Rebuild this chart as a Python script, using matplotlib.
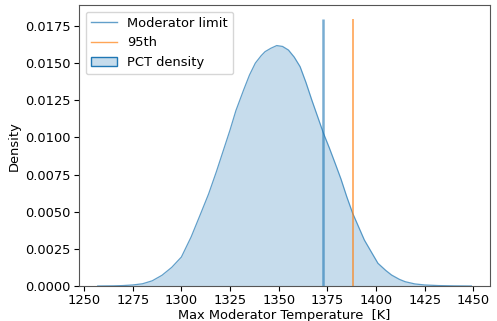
import matplotlib
matplotlib.use("Agg")
import matplotlib.pyplot as plt
from matplotlib.patches import Patch
from matplotlib.lines import Line2D

# KDE curve (temperature K, density)
temp = [1257, 1265, 1270, 1275, 1280, 1285, 1290, 1295, 1300, 1305, 1310, 1314,
        1318, 1322, 1325, 1328, 1332, 1335, 1338, 1341, 1343, 1346, 1349, 1352,
        1355, 1358, 1361, 1364, 1367, 1370, 1373, 1376, 1379, 1382, 1385, 1388,
        1391, 1394, 1398, 1401, 1405, 1408, 1412, 1415, 1420, 1425, 1432, 1440, 1449]
dens = [0.0000, 0.00001, 0.00003, 0.00007, 0.00015, 0.00035, 0.00072, 0.00125, 0.00195,
        0.0033, 0.0049, 0.0062, 0.0077, 0.0093, 0.0105, 0.0118, 0.0132, 0.0142, 0.0150,
        0.0155, 0.01577, 0.0160, 0.01618, 0.01612, 0.01588, 0.0154, 0.01476, 0.0137,
        0.01252, 0.0114, 0.01028, 0.0093, 0.00826, 0.0072, 0.0060, 0.0049, 0.0040,
        0.0031, 0.0022, 0.00153, 0.00105, 0.00074, 0.00045, 0.00029, 0.00014, 0.00007,
        0.00003, 0.00001, 0.0]

moderator_limit = 1373
p95 = 1388
line_top = 0.018

FS = 9.4
fig, ax = plt.subplots(figsize=(4.97, 3.21), dpi=100)
fig.subplots_adjust(left=0.159, right=0.986, top=0.984, bottom=0.109)

ax.fill_between(temp, dens, color='tab:blue', alpha=0.25, linewidth=0)
ax.plot(temp, dens, color='tab:blue', alpha=0.7, linewidth=0.9)
ax.vlines(moderator_limit, 0, line_top, color='tab:blue', alpha=0.6, linewidth=1.8)
ax.vlines(p95, 0, line_top, color='tab:orange', alpha=0.65, linewidth=1.3)

handles = [Line2D([], [], color='tab:blue', alpha=0.7, lw=1.0),
           Line2D([], [], color='tab:orange', alpha=0.7, lw=1.0),
           Patch(facecolor=(31/255, 119/255, 180/255, 0.25), edgecolor='tab:blue')]
ax.legend(handles, ['Moderator limit', '95th', 'PCT density'], loc='upper left',
          fontsize=FS)

ax.set_xlim(1247.4, 1458.6)
ax.set_ylim(0, line_top * 1.05)
ax.set_xticks([1250, 1275, 1300, 1325, 1350, 1375, 1400, 1425, 1450])
ax.set_yticks([0.0, 0.0025, 0.005, 0.0075, 0.01, 0.0125, 0.015, 0.0175])
ax.set_yticklabels(['0.0000', '0.0025', '0.0050', '0.0075', '0.0100', '0.0125', '0.0150', '0.0175'])
ax.tick_params(labelsize=FS, pad=2.5)
ax.set_xlabel('Max Moderator Temperature  [K]', fontsize=FS, labelpad=1)
ax.set_ylabel('Density', fontsize=FS, labelpad=3)
for s in ax.spines.values():
    s.set_color('#555555')

fig.savefig('out.png', dpi=100)
